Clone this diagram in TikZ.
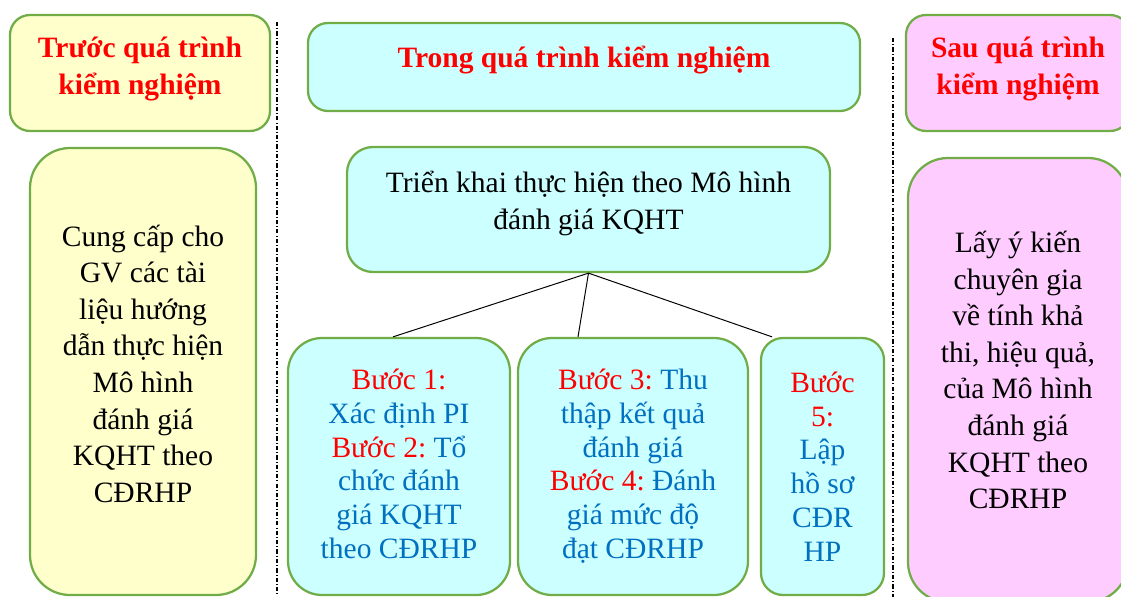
\documentclass[tikz,border=0pt]{standalone}
\usepackage{fontspec}
\setmainfont{Liberation Serif}
\usetikzlibrary{positioning}
\definecolor{vienxanh}{HTML}{70AD47}
\definecolor{nenvang}{HTML}{FFFFCC}
\definecolor{nenxanh}{HTML}{CCFFFF}
\definecolor{nenhong}{HTML}{FFCCFF}
\definecolor{chuxanh}{HTML}{0070C0}
\newcommand{\buocdo}[1]{{\color{red}#1}}
\begin{document}
\begin{tikzpicture}[
    hop/.style={draw=vienxanh, line width=1.6pt, rounded corners=0.5cm, align=center,
      inner sep=0pt, font=\fontsize{21}{26}\selectfont\frenchspacing},
    tieude/.style={hop, text=red, font=\bfseries\fontsize{21}{26}\selectfont},
    buoc/.style={hop, fill=nenxanh, text=chuxanh, rounded corners=0.85cm,
      font=\fontsize{21}{24}\selectfont\frenchspacing},
    nang/.style={text depth=#1},
    phancach/.style={line width=0.8pt, dash pattern=on 3pt off 1.5pt on 0.7pt off 1.5pt},
  ]
  \useasboundingbox (0,0) rectangle (28.025,-14.925);

  % Truoc qua trinh
  \node[tieude, fill=nenvang, nang=0.36cm, minimum width=6.5cm, minimum height=2.9cm] (truoc) at (3.5,-1.825)
    {Trước quá trình\\kiểm nghiệm};
  \node[hop, fill=nenvang, nang=0.4cm, rounded corners=1cm, minimum width=5.65cm, minimum height=11.175cm] (cungcap) at (3.575,-9.2875)
    {Cung cấp cho\\GV các tài\\liệu hướng\\dẫn thực hiện\\Mô hình\\đánh giá\\KQHT theo\\CĐRHP};

  % Trong qua trinh
  \node[tieude, fill=nenxanh, nang=0.52cm, minimum width=13.8cm, minimum height=2.2cm] (trong) at (14.6,-1.675)
    {Trong quá trình kiểm nghiệm};
  \node[hop, fill=nenxanh, nang=0.46cm, rounded corners=0.65cm, minimum width=12.075cm, minimum height=3.125cm] (trienkhai) at (14.7125,-5.2375)
    {Triển khai thực hiện theo Mô hình\\đánh giá KQHT};
  \node[buoc, nang=0.14cm, minimum width=5.55cm, minimum height=6.425cm] (buoc12) at (9.975,-11.6625)
    {\buocdo{Bước 1:}\\Xác định PI\\\buocdo{Bước 2:} Tổ\\chức đánh\\giá KQHT\\theo CĐRHP};
  \node[buoc, nang=0.14cm, minimum width=5.75cm, minimum height=6.425cm] (buoc34) at (15.825,-11.6625)
    {\buocdo{Bước 3:} Thu\\thập kết quả\\đánh giá\\\buocdo{Bước 4:} Đánh\\giá mức độ\\đạt CĐRHP};
  \node[buoc, rounded corners=0.55cm, minimum width=3.075cm, minimum height=6.425cm] (buoc5) at (20.5625,-11.6625)
    {\buocdo{Bước}\\\buocdo{5:}\\Lập\\hồ sơ\\CĐR\\HP};
  \draw[line width=0.7pt] (trienkhai.south) -- ([xshift=-0.15cm]buoc12.north);
  \draw[line width=0.7pt] (trienkhai.south) -- ([xshift=-1.375cm]buoc34.north);
  \draw[line width=0.7pt] (trienkhai.south) -- ([xshift=-1.26cm]buoc5.north);

  % Sau qua trinh
  \node[tieude, fill=nenhong, nang=0.36cm, minimum width=5.6cm, minimum height=2.9cm] (sau) at (25.45,-1.825)
    {Sau quá trình\\kiểm nghiệm};
  \node[hop, fill=nenhong, nang=0.5cm, rounded corners=1cm, minimum width=5.5cm, minimum height=11.1cm] (layykien) at (25.45,-9.5)
    {Lấy ý kiến\\chuyên gia\\về tính khả\\thi, hiệu quả,\\của Mô hình\\đánh giá\\KQHT theo\\CĐRHP};

  % Duong phan cach
  \coordinate (vach1) at (6.925,-0.55);
  \coordinate (vach2) at (22.325,-0.95);
  \draw[phancach] (vach1) -- (vach1 |- 0,-14.925);
  \draw[phancach] (vach2) -- (vach2 |- 0,-14.925);

\end{tikzpicture}
\end{document}
